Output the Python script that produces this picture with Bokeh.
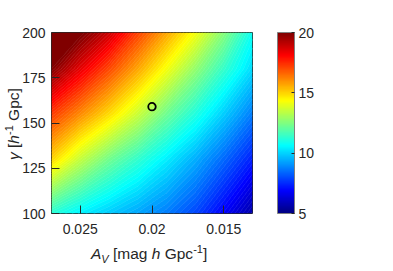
import numpy as np
from bokeh.plotting import figure
from bokeh.layouts import row, column
from bokeh.models import Range1d, FixedTicker, LinearColorMapper, ColorBar, Div
from bokeh.embed import file_html
from bokeh.resources import INLINE

# ---- data ----
a_v = [0.013, 0.015, 0.017, 0.019, 0.021, 0.023, 0.025, 0.027]
gamma = [100, 130, 155, 180, 200]
z_gamma_100 = [5.6, 6.8, 7.9, 8.7, 9.3, 9.85, 10.45, 11.2]
z_gamma_130 = [7.3, 8.4, 9.45, 10.4, 11.35, 12.3, 13.5, 15.0]
z_gamma_155 = [8.7, 9.9, 11.1, 12.25, 13.6, 14.9, 16.1, 17.3]
z_gamma_180 = [10.1, 11.4, 12.8, 14.25, 15.7, 17.1, 18.5, 20.0]
z_gamma_200 = [10.8, 12.6, 14.25, 15.7, 17.2, 18.9, 20.2, 21.0]

best_av = [0.020]
best_gamma = [159]

x_ticks = [0.015, 0.02, 0.025]
x_tick_labels = ["0.015", "0.02", "0.025"]
y_ticks = [100, 125, 150, 175, 200]
cbar_ticks = [5, 10, 15, 20]
cbar_low, cbar_high = 5, 20

# ---- styling helpers ----
def jet(t):
    t = float(np.clip(t, 0, 1))
    r = np.clip(1.5 - abs(4 * t - 3), 0, 1)
    g = np.clip(1.5 - abs(4 * t - 2), 0, 1)
    b = np.clip(1.5 - abs(4 * t - 1), 0, 1)
    return "#%02x%02x%02x" % (int(round(r * 255)), int(round(g * 255)), int(round(b * 255)))

def jet_v(v):
    return jet((v - cbar_low) / (cbar_high - cbar_low))

palette = [jet(t) for t in np.linspace(0, 1, 256)]
levels = list(np.linspace(cbar_low, cbar_high, 91)) + [22.0]
band_colors = [jet_v((levels[i] + levels[i + 1]) / 2) for i in range(len(levels) - 1)]
line_colors = [jet_v(l) for l in levels]

FONT = "Liberation Sans"
TXT = "#262626"

LEFT_W = 16      # width of the y-label strip
BOTTOM_H = 29    # height of the x-label strip
W, H = 393, 271

p = figure(width=W - LEFT_W, height=H - BOTTOM_H, output_backend="svg", toolbar_location=None,
           x_range=Range1d(0.027, 0.013), y_range=Range1d(100, 200),
           min_border_left=51 - LEFT_W, min_border_right=141, min_border_top=32,
           min_border_bottom=H - BOTTOM_H - 32 - 181, margin=0,
           border_fill_color=None)

z = np.array([z_gamma_100, z_gamma_130, z_gamma_155, z_gamma_180, z_gamma_200])
p.contour(x=a_v, y=gamma, z=z, levels=levels, fill_color=band_colors,
          line_color=line_colors, line_width=0.8)

p.scatter(best_av, best_gamma, marker="circle", size=7.5, fill_color=None,
          line_color="black", line_width=1.8)

p.grid.visible = False
p.outline_line_color = TXT
p.outline_line_width = 1
p.outline_line_alpha = 1

for ax in (p.xaxis[0], p.yaxis[0]):
    ax.axis_line_color = None
    ax.major_tick_out = 0
    ax.major_tick_in = 8
    ax.minor_tick_line_color = None
    ax.major_tick_line_color = TXT
    ax.major_label_text_font = FONT
    ax.major_label_text_font_size = "14px"
    ax.major_label_text_color = TXT

p.xaxis.ticker = FixedTicker(ticks=x_ticks)
p.xaxis.major_label_overrides = {t: s for t, s in zip(x_ticks, x_tick_labels)}
p.xaxis.major_label_standoff = 10
p.yaxis.ticker = FixedTicker(ticks=y_ticks)
p.yaxis.major_label_standoff = 6

mapper = LinearColorMapper(palette=palette, low=cbar_low, high=cbar_high)
cb = ColorBar(color_mapper=mapper, ticker=FixedTicker(ticks=cbar_ticks),
              width=17, height=181, location=(25, 0), padding=0, margin=0,
              major_label_text_font=FONT, major_label_text_font_size="14px",
              major_label_text_color=TXT, label_standoff=4,
              major_tick_in=3, major_tick_out=0, major_tick_line_color=TXT,
              minor_tick_line_color=None, bar_line_color="#808080",
              border_line_color=None, background_fill_color=None)
p.add_layout(cb, "right")

base = (f"font-family:'{FONT}';font-size:15.5px;color:{TXT};white-space:nowrap;"
        "line-height:18px;width:max-content;margin:0;")
sub = "font-size:11px;position:relative;top:4px;vertical-align:baseline;"
sup = "font-size:11px;position:relative;top:-6px;vertical-align:baseline;"

x_label_html = (f'<div style="{base}padding-left:{91 - LEFT_W}px;padding-top:3px;">'
                f'<i>A</i><span style="{sub}font-style:italic;">V</span> [mag <i>h</i> '
                f'Gpc<span style="{sup}">-1</span>]</div>')
y_label_html = (f'<div style="{base}transform-origin:0 0;'
                f'transform:translate(5px,160px) rotate(-90deg);">'
                f'<i>\u03b3</i> [<i>h</i><span style="{sup}">-1</span> Gpc]</div>')

div_x = Div(text=x_label_html, width=W - LEFT_W, height=BOTTOM_H, margin=0)
div_y = Div(text=y_label_html, width=LEFT_W, height=H, margin=0)

layout = row(div_y, column(p, div_x, spacing=0), spacing=0)

open("out.html", "w").write(file_html(layout, INLINE))
